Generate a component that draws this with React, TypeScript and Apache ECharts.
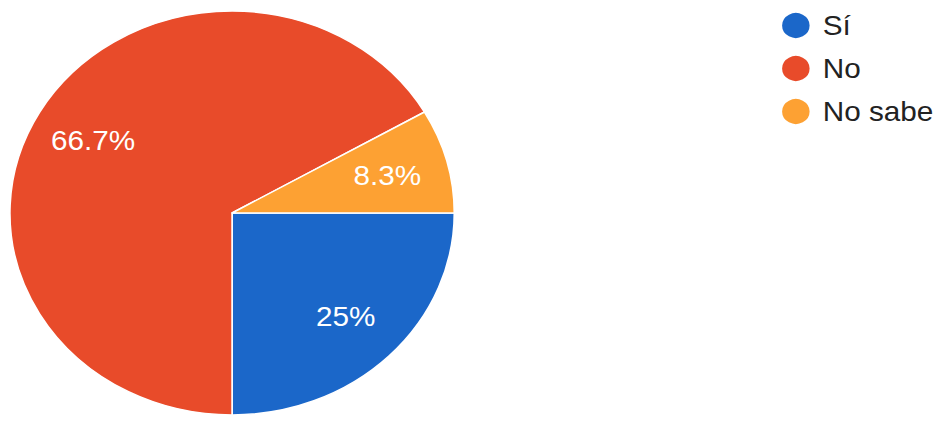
import React, { useEffect, useRef } from "react";
import * as echarts from "echarts";

const categories = ["Sí", "No", "No sabe"];
const counts = [3, 8, 1];
const colors = ["#1b67c9", "#e84b2a", "#fda133"];

const SX = 1.1;

export default function App() {
  const ref = useRef<HTMLDivElement>(null);
  useEffect(() => {
    if (!ref.current) return;
    const chart = echarts.init(ref.current, null, { renderer: "svg" });
    const data = categories.map((name, i) => ({
      name,
      value: counts[i],
      itemStyle: { color: colors[i] },
    }));
    const font = 'Arial, "Liberation Sans", sans-serif';
    chart.setOption({
      animation: false,
      legend: {
        orient: "vertical",
        left: 704,
        top: 6,
        icon: "circle",
        itemWidth: 27,
        itemHeight: 27,
        itemGap: 14,
        data: categories,
        textStyle: {
          fontFamily: font,
          fontSize: 27,
          color: "#222222",
          lineHeight: 27,
          padding: [0, 0, 0, 6],
        },
      },
      series: [
        {
          name: "pie",
          type: "pie",
          center: [211, 213],
          radius: [0, 202],
          startAngle: 0,
          clockwise: true,
          percentPrecision: 1,
          label: { show: false },
          labelLine: { show: false },
          itemStyle: { borderColor: "#ffffff", borderWidth: 1.5 },
          emphasis: { disabled: true },
          data,
        },
        {
          name: "labels",
          type: "pie",
          center: [211, 213],
          radius: [84, 202],
          startAngle: 0,
          clockwise: true,
          percentPrecision: 1,
          silent: true,
          legendHoverLink: false,
          itemStyle: { color: "rgba(0,0,0,0)", borderWidth: 0 },
          label: {
            show: true,
            position: "inside",
            formatter: "{d}%",
            color: "#ffffff",
            fontFamily: font,
            fontSize: 27,
          },
          labelLine: { show: false },
          emphasis: { disabled: true },
          data: categories.map((name, i) => ({ name, value: counts[i] })),
        },
      ],
    });
    return () => chart.dispose();
  }, []);
  return (
    <div
      style={{
        position: "absolute",
        left: 0,
        top: 0,
        width: 945,
        height: 430,
        overflow: "hidden",
        background: "#ffffff",
      }}
    >
      <div
        ref={ref}
        style={{
          width: Math.round(945 / SX),
          height: 430,
          transform: `scaleX(${SX})`,
          transformOrigin: "0 0",
        }}
      />
    </div>
  );
}
